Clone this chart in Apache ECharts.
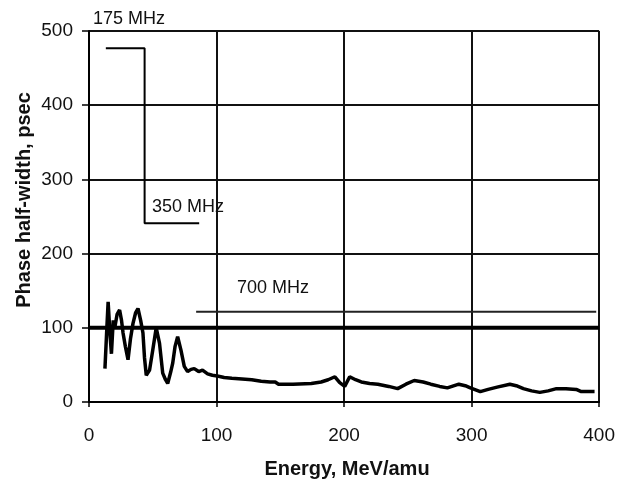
<!DOCTYPE html>
<html>
<head>
<meta charset="utf-8">
<title>Phase half-width vs energy</title>
<script src="https://cdn.jsdelivr.net/npm/echarts@6/dist/echarts.min.js"></script>
<style>
  html, body { margin: 0; padding: 0; background: #fff; }
  #chart { width: 618px; height: 490px; }
</style>
</head>
<body>
<div id="chart"></div>
<script>
// tick labels
const xTicks = [0, 100, 200, 300, 400]
const yTicks = [0, 100, 200, 300, 400, 500]

// measured phase half-width curve (MeV/amu, psec)
const energy = [12.5, 14, 15, 16.5, 17.6, 19, 20.2, 22, 24, 25.5, 26.7, 28.5, 30.6, 32.5, 34.5, 36.5, 38.4,
  40.5, 42.3, 43.5, 44.9, 47.5, 50, 52.7, 55.3, 57.8, 60, 61.7, 64, 65.6, 67.5, 69.5, 72.1, 74.7, 77.3,
  80, 82.5, 86, 89, 93, 96.7, 100.6, 106, 112, 120, 127.6, 135, 142, 146, 148.6, 160, 174.3, 182, 187.5,
  192.8, 196.6, 200.5, 204.4, 209, 213.5, 220, 226.5, 235, 242, 248.5, 255, 262, 268, 275, 281, 290, 295,
  299, 306.8, 313, 320, 330, 335, 340.6, 347, 353.5, 360, 366.5, 374, 382, 386, 396.4]
const halfWidth = [45, 100, 135, 90, 65, 110, 100, 118, 124, 110, 93, 75, 57, 85, 106, 120, 126,
  110, 93, 60, 36, 43, 70, 100, 79, 39, 30, 25, 40, 52, 75, 88, 70, 48, 41,
  44, 45, 41, 43, 38, 36, 35, 33, 32, 31, 30, 28, 27, 27, 24, 24, 25, 27, 30,
  34, 26, 21, 34, 30, 27, 25, 24, 21, 18, 24, 29, 27, 24, 21, 19, 24, 22,
  19, 14, 17, 20, 24, 22, 18, 15, 13, 15, 18, 18, 17, 14, 14]

// acceptance limits for each RF frequency (stepped)
const limitX = [13.2, 43.6, 43.6, 86.4]
const limitY = [476.6, 476.6, 240.8, 240.8]
const limit700X = [84, 397.7]
const limit700Y = [121.5, 121.5]
const refX = [0, 400]
const refY = [100, 100]

const zip = (xs, ys) => xs.map((x, i) => [x, ys[i]])

const chart = echarts.init(document.getElementById('chart'))
const font = 'Liberation Sans, Arial, sans-serif'

chart.setOption({
  animation: false,
  grid: { left: 89, right: 15, top: 31, bottom: 88 },
  xAxis: {
    type: 'value',
    min: xTicks[0],
    max: xTicks[xTicks.length - 1],
    interval: 100,
    axisLine: { show: true, lineStyle: { color: '#000', width: 2 } },
    axisTick: { show: true, length: 5, lineStyle: { color: '#000', width: 1.5 } },
    axisLabel: { color: '#111', fontSize: 19, fontFamily: font, margin: 24 },
    splitLine: { show: true, lineStyle: { color: '#111', width: 2 } },
  },
  yAxis: {
    type: 'value',
    min: yTicks[0],
    max: yTicks[yTicks.length - 1],
    interval: 100,
    axisLine: { show: true, lineStyle: { color: '#000', width: 2 } },
    axisTick: { show: true, length: 7, lineStyle: { color: '#000', width: 1.5 } },
    axisLabel: { color: '#111', fontSize: 19, fontFamily: font, margin: 16 },
    splitLine: { show: true, lineStyle: { color: '#111', width: 2 } },
  },
  graphic: [
    // axis titles
    {
      type: 'text', x: 24, y: 200, rotation: Math.PI / 2,
      style: { text: 'Phase half-width, psec', font: 'bold 20px ' + font, fill: '#111', align: 'center', verticalAlign: 'middle' },
    },
    {
      type: 'text', x: 347, y: 469,
      style: { text: 'Energy, MeV/amu', font: 'bold 20px ' + font, fill: '#111', align: 'center', verticalAlign: 'middle' },
    },
    // frequency labels
    { type: 'text', x: 93, y: 19, style: { text: '175 MHz', font: '18px ' + font, fill: '#111', verticalAlign: 'middle' } },
    { type: 'text', x: 152, y: 207, style: { text: '350 MHz', font: '18px ' + font, fill: '#111', verticalAlign: 'middle' } },
    { type: 'text', x: 237, y: 288, style: { text: '700 MHz', font: '18px ' + font, fill: '#111', verticalAlign: 'middle' } },
  ],
  series: [
    {
      type: 'line', data: zip(refX, refY), symbol: 'none', silent: true,
      lineStyle: { color: '#000', width: 4 },
    },
    {
      type: 'line', data: zip(limitX, limitY), symbol: 'none', silent: true,
      lineStyle: { color: '#000', width: 2 },
    },
    {
      type: 'line', data: zip(limit700X, limit700Y), symbol: 'none', silent: true,
      lineStyle: { color: '#222', width: 2 },
    },
    {
      type: 'line', data: zip(energy, halfWidth), symbol: 'none',
      lineStyle: { color: '#000', width: 3.5 },
    },
  ],
})
</script>
</body>
</html>
